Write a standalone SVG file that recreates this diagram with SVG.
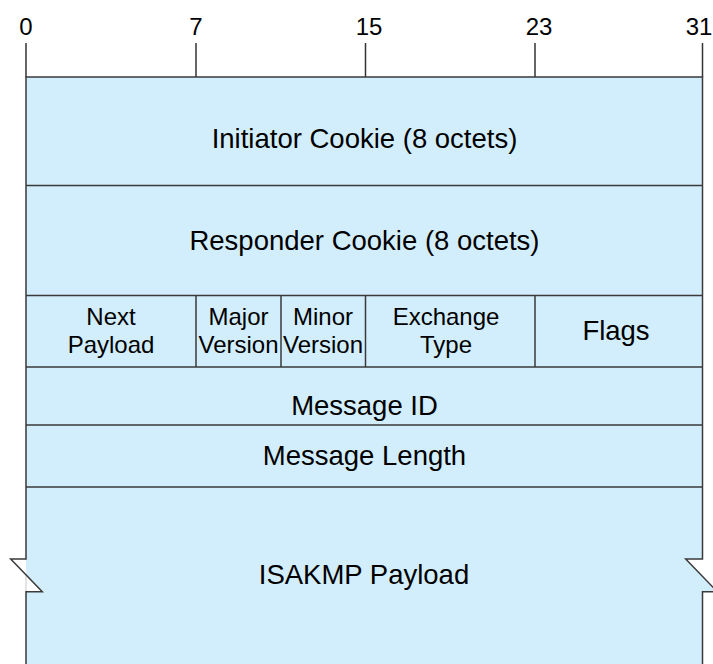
<svg xmlns="http://www.w3.org/2000/svg" width="713" height="664" viewBox="0 0 713 664">
<style>
.t{font-family:"Liberation Sans",Arial,sans-serif;fill:#000;text-anchor:middle}
.big{font-size:27.5px}
.sm{font-size:24px}
.lab{font-size:24px}
.ln{stroke:#3a3a3a;stroke-width:1.5;fill:none}
.tick{stroke:#333;stroke-width:1.5}
.box{fill:#d2eefc;stroke:none}
</style>
<rect width="713" height="664" fill="#fff"/>
<g id="scale">
<text class="t lab" x="26" y="35">0</text>
<text class="t lab" x="196" y="35">7</text>
<text class="t lab" x="369" y="35">15</text>
<text class="t lab" x="539" y="35">23</text>
<text class="t lab" x="699" y="35">31</text>
<line class="tick" x1="26" y1="43" x2="26" y2="77"/>
<line class="tick" x1="196" y1="43" x2="196" y2="77"/>
<line class="tick" x1="365.5" y1="43" x2="365.5" y2="77"/>
<line class="tick" x1="535" y1="43" x2="535" y2="77"/>
<line class="tick" x1="702.5" y1="43" x2="702.5" y2="77"/>
</g>
<g id="frame">
<path class="box" d="M26,77 H702.5 V559 H685.7 L717.3,591.7 H702.5 V664 H26 V591.7 H42.3 L26,574.8 Z"/>
<line x1="26" y1="575" x2="26" y2="591.7" stroke="#c8c8c8" stroke-width="1"/>
<path class="ln" d="M26,664 V591.7 H42.3 L10.7,559 H26 V77 H702.5 V559 H685.7 L717.3,591.7 H702.5 V664" stroke-width="2" stroke="#444"/>
</g>
<g id="connectors">
<line class="ln" x1="26" y1="185.5" x2="702.5" y2="185.5"/>
<line class="ln" x1="26" y1="295.5" x2="702.5" y2="295.5"/>
<line class="ln" x1="26" y1="367" x2="702.5" y2="367"/>
<line class="ln" x1="26" y1="425" x2="702.5" y2="425"/>
<line class="ln" x1="26" y1="487" x2="702.5" y2="487"/>
<line class="ln" x1="196" y1="295.5" x2="196" y2="367"/>
<line class="ln" x1="281" y1="295.5" x2="281" y2="367"/>
<line class="ln" x1="365.5" y1="295.5" x2="365.5" y2="367"/>
<line class="ln" x1="535" y1="295.5" x2="535" y2="367"/>
</g>
<g id="initiator-cookie"><text class="t big" x="364.5" y="148">Initiator Cookie (8 octets)</text></g>
<g id="responder-cookie"><text class="t big" x="364.5" y="250">Responder Cookie (8 octets)</text></g>
<g id="next-payload"><text class="t sm" x="111" y="325">Next</text><text class="t sm" x="111" y="353">Payload</text></g>
<g id="major-version"><text class="t sm" x="238.5" y="325">Major</text><text class="t sm" x="238.5" y="353">Version</text></g>
<g id="minor-version"><text class="t sm" x="323" y="325">Minor</text><text class="t sm" x="323" y="353">Version</text></g>
<g id="exchange-type"><text class="t sm" x="446" y="325">Exchange</text><text class="t sm" x="446" y="353">Type</text></g>
<g id="flags"><text class="t big" x="616" y="340">Flags</text></g>
<g id="message-id"><text class="t big" x="364.5" y="415">Message ID</text></g>
<g id="message-length"><text class="t big" x="364.5" y="465">Message Length</text></g>
<g id="isakmp-payload"><text class="t big" x="364" y="584">ISAKMP Payload</text></g>
</svg>
